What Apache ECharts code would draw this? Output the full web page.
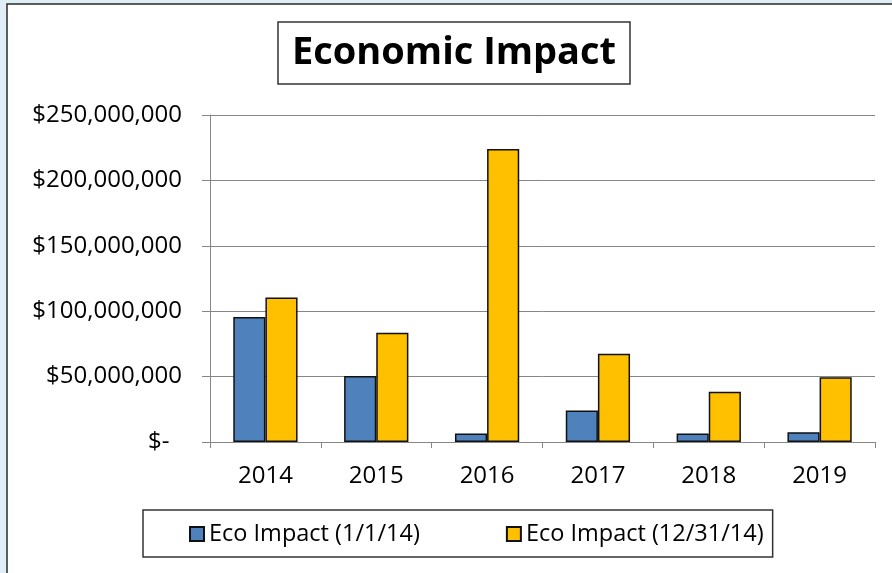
<!DOCTYPE html>
<html>
<head>
<meta charset="utf-8">
<script src="https://cdn.jsdelivr.net/npm/echarts@6/dist/echarts.min.js"></script>
<style>
  html, body { margin: 0; padding: 0; }
  #chart { width: 892px; height: 573px; }
</style>
</head>
<body>
<div id="chart"></div>
<script>
// values
const years = ['2014', '2015', '2016', '2017', '2018', '2019']
const impactStart = [95500000, 50500000, 6500000, 24000000, 6500000, 7500000]
const impactEnd = [110500000, 83500000, 224000000, 67500000, 38500000, 49500000]
const seriesNames = ['Eco Impact (1/1/14)', 'Eco Impact (12/31/14)']
const yTicks = { min: 0, max: 250000000, interval: 50000000 }

const font = '"Open Sans", sans-serif'

function money(v) {
  if (v === 0) return '$-  '
  return '$' + v.toLocaleString('en-US')
}

const option = {
  backgroundColor: '#dfedf5',
  animation: false,
  graphic: [{
    type: 'rect',
    z: -10,
    shape: { x: 7, y: 4, width: 900, height: 600 },
    style: { fill: '#ffffff', stroke: '#2a2a2a', lineWidth: 1.5 }
  }],
  title: {
    text: 'Economic Impact',
    left: 278,
    top: 22,
    padding: [12, 14],
    borderColor: '#333',
    borderWidth: 1.5,
    textStyle: { fontFamily: font, fontWeight: 'bold', fontSize: 38, color: '#000' }
  },
  legend: {
    left: 143,
    top: 510,
    padding: [12, 9, 11, 46],
    itemGap: 86,
    itemWidth: 14,
    itemHeight: 14,
    icon: 'rect',
    borderColor: '#333',
    borderWidth: 1.5,
    textStyle: { fontFamily: font, fontSize: 23.5, color: '#000' }
  },
  grid: { left: 210, right: 17, top: 115, bottom: 131 },
  xAxis: {
    type: 'category',
    data: years,
    axisLine: { lineStyle: { color: '#868686', width: 1 } },
    axisTick: { show: true, length: 6, lineStyle: { color: '#868686' } },
    axisLabel: { margin: 22, fontFamily: font, fontSize: 24, color: '#000' }
  },
  yAxis: {
    type: 'value',
    min: yTicks.min,
    max: yTicks.max,
    interval: yTicks.interval,
    axisLine: { show: true, lineStyle: { color: '#868686', width: 1 } },
    axisTick: { show: true, length: 8, lineStyle: { color: '#868686' } },
    splitLine: { lineStyle: { color: '#868686', width: 1 } },
    axisLabel: { margin: 28, fontFamily: font, fontSize: 24, color: '#000', formatter: money }
  },
  series: [
    {
      name: seriesNames[0],
      type: 'bar',
      data: impactStart,
      barGap: '0%',
      barCategoryGap: '42%',
      itemStyle: { color: '#4f81bd', borderColor: '#111', borderWidth: 1.5 }
    },
    {
      name: seriesNames[1],
      type: 'bar',
      data: impactEnd,
      itemStyle: { color: '#ffc000', borderColor: '#111', borderWidth: 1.5 }
    }
  ]
}

echarts.init(document.getElementById('chart')).setOption(option)
</script>
</body>
</html>
